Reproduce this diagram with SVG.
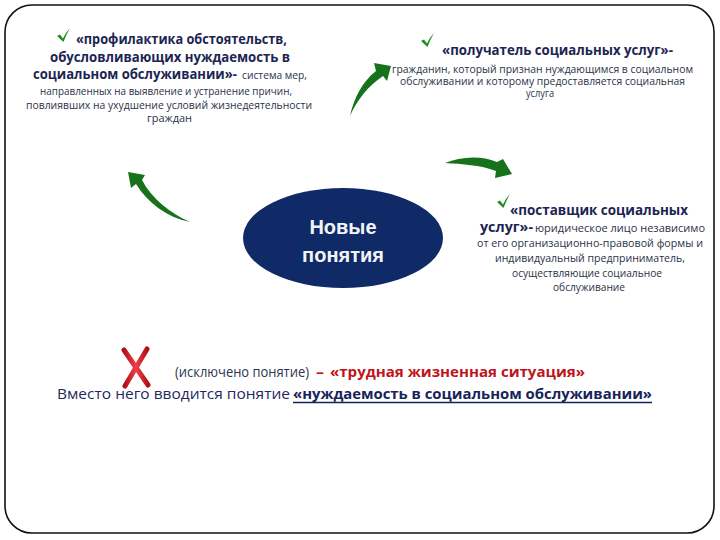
<svg xmlns="http://www.w3.org/2000/svg" width="720" height="540" viewBox="0 0 720 540">
<defs>
<style>
text{font-family:'Open Sans','Noto Sans','DejaVu Sans',sans-serif}
.h{font-weight:bold;font-size:14.5px;fill:#1c2552}
.s{font-size:10.3px;fill:#2b3247}
.r{font-size:14px;fill:#2b3450}
.n{font-size:14px;fill:#1f2a5c}
.nb{font-weight:bold;font-size:14.5px;fill:#16245a}
.red{font-weight:bold;font-size:14.5px;fill:#c0141c}
.arrow{fill:#17731b}
.chk{fill:#1f8c1f}
.ctr{font-family:'Liberation Sans',Arial,sans-serif;font-weight:bold;font-size:20px;fill:#f2f4f8}
</style>
<linearGradient id="xg" x1="0" y1="0" x2="1" y2="0">
<stop offset="0" stop-color="#b0101a"/>
<stop offset="0.5" stop-color="#f0404a"/>
<stop offset="1" stop-color="#b0101a"/>
</linearGradient>
<path id="check" d="M0,8 L3,6.5 L6,10.5 Q9,4 13,0 Q9.5,6 6.5,14 Z"/>
</defs>

<rect id="frame" x="5" y="5" width="709" height="528" rx="27" ry="27" fill="#ffffff" stroke="#111111" stroke-width="1.6"/>

<g id="connectors">
<path class="arrow" d="M350,116 C354,98 362,82 376,71 L374,63 L391,66 L387,81 L383,76 C368,86 357,100 350,116 Z"/>
<path class="arrow" d="M190,222 C170,213 152,199 142,180 L145,175 L128,172 L131,188 L136,184 C148,203 166,217 190,222 Z"/>
<path class="arrow" d="M445,163 C460,157 480,155 497,162 L503,159 L512,174 L495,178 L496,171 C480,165 462,164 445,163 Z"/>
</g>

<g id="node-center">
<ellipse cx="343" cy="238" rx="100" ry="50" fill="#0f2a66"/>
<text class="ctr" x="343" y="234" text-anchor="middle">Новые</text>
<text class="ctr" x="343" y="262" text-anchor="middle">понятия</text>
</g>

<g id="node-prevention">
<use href="#check" class="chk" x="57" y="28"/>
<text class="h" x="76" y="44" textLength="211" lengthAdjust="spacingAndGlyphs">«профилактика обстоятельств,</text>
<text class="h" x="50" y="62" textLength="240" lengthAdjust="spacingAndGlyphs">обусловливающих нуждаемость в</text>
<text class="h" x="33" y="79" textLength="204" lengthAdjust="spacingAndGlyphs">социальном обслуживании»-</text>
<text class="s" x="242" y="79" textLength="65" lengthAdjust="spacingAndGlyphs">система мер,</text>
<text class="s" x="40" y="95" textLength="252" lengthAdjust="spacingAndGlyphs">направленных на выявление и устранение причин,</text>
<text class="s" x="26" y="108.5" textLength="286" lengthAdjust="spacingAndGlyphs">повлиявших на ухудшение условий жизнедеятельности</text>
<text class="s" x="147" y="122" textLength="45" lengthAdjust="spacingAndGlyphs">граждан</text>
</g>

<g id="node-recipient">
<use href="#check" class="chk" x="421" y="33"/>
<text class="h" x="442" y="55" textLength="231" lengthAdjust="spacingAndGlyphs">«получатель социальных услуг»-</text>
<text class="s" x="392" y="72.5" textLength="301" lengthAdjust="spacingAndGlyphs">гражданин, который признан нуждающимся в социальном</text>
<text class="s" x="400" y="84.5" textLength="285" lengthAdjust="spacingAndGlyphs">обслуживании и которому предоставляется социальная</text>
<text class="s" x="526" y="97" textLength="28" lengthAdjust="spacingAndGlyphs">услуга</text>
</g>

<g id="node-provider">
<use href="#check" class="chk" x="497" y="194"/>
<text class="h" x="510" y="215" textLength="178" lengthAdjust="spacingAndGlyphs">«поставщик социальных</text>
<text class="h" x="480" y="232" textLength="53" lengthAdjust="spacingAndGlyphs">услуг»-</text>
<text class="s" x="535" y="232" textLength="170" lengthAdjust="spacingAndGlyphs">юридическое лицо независимо</text>
<text class="s" x="477" y="247" textLength="226" lengthAdjust="spacingAndGlyphs">от его организационно-правовой формы и</text>
<text class="s" x="495" y="262" textLength="190" lengthAdjust="spacingAndGlyphs">индивидуальный предприниматель,</text>
<text class="s" x="512" y="277" textLength="150" lengthAdjust="spacingAndGlyphs">осуществляющие социальное</text>
<text class="s" x="553" y="291" textLength="72" lengthAdjust="spacingAndGlyphs">обслуживание</text>
</g>

<g id="note">
<g id="cross" stroke="url(#xg)" stroke-width="5" stroke-linecap="round" fill="none">
<line x1="124" y1="350" x2="148" y2="385"/>
<line x1="147" y1="349" x2="125" y2="386"/>
</g>
<text class="r" x="175" y="377" textLength="134" lengthAdjust="spacingAndGlyphs">(исключено понятие)</text>
<text class="red" x="316" y="377" textLength="8" lengthAdjust="spacingAndGlyphs">–</text>
<text class="red" x="330" y="377" textLength="255" lengthAdjust="spacingAndGlyphs">«трудная жизненная ситуация»</text>
<text class="n" x="57" y="399" textLength="233" lengthAdjust="spacingAndGlyphs">Вместо него вводится понятие</text>
<text class="nb" x="293" y="399" textLength="359" lengthAdjust="spacingAndGlyphs">«нуждаемость в социальном обслуживании»</text>
<line x1="293" y1="402.5" x2="652" y2="402.5" stroke="#16245a" stroke-width="1.5"/>
</g>
</svg>
